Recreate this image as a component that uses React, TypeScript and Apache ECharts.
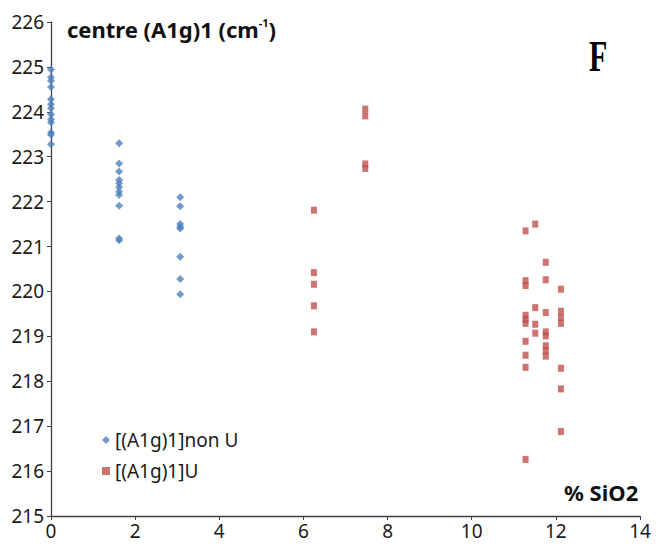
import React, { useEffect, useRef } from "react";
import * as echarts from "echarts";

const nonUX = [0, 0, 0, 0, 0, 0, 0, 0, 0, 0, 0, 0, 0,
  1.62, 1.62, 1.62, 1.62, 1.62, 1.62, 1.62, 1.62, 1.62, 1.62, 1.62,
  3.07, 3.07, 3.07, 3.07, 3.07, 3.07, 3.07, 3.07];
const nonUY = [224.94, 224.77, 224.69, 224.55, 224.28, 224.17, 224.08, 223.94, 223.83, 223.76, 223.54, 223.49, 223.28,
  223.3, 222.85, 222.67, 222.48, 222.41, 222.32, 222.22, 222.15, 221.91, 221.18, 221.14,
  222.1, 221.9, 221.5, 221.44, 221.4, 220.77, 220.28, 219.94];

const uX = [6.25, 6.25, 6.25, 6.25, 6.25,
  7.47, 7.47, 7.47, 7.47,
  11.28, 11.28, 11.28, 11.28, 11.28, 11.28, 11.28, 11.28, 11.28, 11.28,
  11.51, 11.51, 11.51, 11.51,
  11.76, 11.76, 11.76, 11.76, 11.76, 11.76, 11.76, 11.76,
  12.12, 12.12, 12.12, 12.12, 12.12, 12.12, 12.12];
const uY = [221.81, 220.42, 220.16, 219.68, 219.1,
  224.06, 223.91, 222.84, 222.74,
  221.35, 220.24, 220.13, 219.47, 219.38, 219.29, 218.89, 218.58, 218.31, 216.26,
  221.5, 219.64, 219.27, 219.07,
  220.65, 220.26, 219.53, 219.1, 219.01, 218.79, 218.68, 218.56,
  220.05, 219.56, 219.42, 219.29, 218.29, 217.83, 216.88];

const seriesNames = ["[(A1g)1]non U", "[(A1g)1]U"];
const xTicks = { min: 0, max: 14, interval: 2 };
const yTicks = { min: 215, max: 226, interval: 1 };

const FONT = "Noto Sans";

export default function App() {
  const ref = useRef<HTMLDivElement>(null);
  useEffect(() => {
    document.body.style.margin = "0";
    if (!ref.current) return;
    const chart = echarts.init(ref.current, null, { renderer: "svg" });
    const axisLine = { show: true, lineStyle: { color: "#404040", width: 1.3 } };
    chart.setOption({
      animation: false,
      backgroundColor: "#ffffff",
      grid: { left: 51, right: 22, top: 22, bottom: 34, containLabel: false },
      xAxis: {
        type: "value",
        min: xTicks.min,
        max: xTicks.max,
        interval: xTicks.interval,
        axisLine,
        axisTick: { show: true, length: 4, lineStyle: { color: "#404040" } },
        splitLine: { show: false },
        axisLabel: { color: "#1a1a1a", fontSize: 19, fontFamily: FONT, margin: 5 },
      },
      yAxis: {
        type: "value",
        min: yTicks.min,
        max: yTicks.max,
        interval: yTicks.interval,
        axisLine,
        axisTick: { show: true, length: 4, lineStyle: { color: "#404040" } },
        splitLine: { show: false },
        axisLabel: { color: "#1a1a1a", fontSize: 19, fontFamily: FONT, margin: 7 },
      },
      legend: {
        orient: "vertical",
        left: 97,
        top: 424,
        itemWidth: 8,
        itemHeight: 8,
        itemGap: 9,
        textStyle: { fontSize: 19, fontFamily: FONT, color: "#1a1a1a", lineHeight: 22 },
        data: [
          { name: seriesNames[0], icon: "diamond" },
          { name: seriesNames[1], icon: "rect" },
        ],
      },
      series: [
        {
          name: seriesNames[0],
          type: "scatter",
          symbol: "diamond",
          symbolSize: 8,
          itemStyle: { color: "#4F81BD" },
          data: nonUX.map((x, i) => [x, nonUY[i]]),
        },
        {
          name: seriesNames[1],
          type: "scatter",
          symbol: "rect",
          symbolSize: [6, 7],
          itemStyle: { color: "#C0504D" },
          data: uX.map((x, i) => [x, uY[i]]),
        },
      ],
      graphic: [
        {
          type: "text",
          left: 67,
          top: 17,
          style: {
            text: "{a|centre (A1g)1 (cm}{s|-1}{a|)}",
            rich: {
              a: { fontSize: 22, fontWeight: "bold", fontFamily: FONT, fill: "#111" },
              s: { fontSize: 11, fontWeight: "bold", fontFamily: FONT, fill: "#111", verticalAlign: "top", padding: [0, 0, 12, 0] },
            },
          },
        },
        {
          type: "text",
          left: 564,
          top: 481,
          style: { text: "% SiO2", fontSize: 22, fontWeight: "bold", fontFamily: FONT, fill: "#111" },
        },
        {
          type: "text",
          x: 589,
          y: 78,
          scaleY: 1.45,
          style: { text: "F", fontSize: 30, fontWeight: "bold", fontFamily: "Liberation Serif", fill: "#000", textVerticalAlign: "bottom", textBaseline: "bottom" },
        },
      ],
    });
    return () => chart.dispose();
  }, []);
  return <div ref={ref} style={{ width: 662, height: 550 }} />;
}
